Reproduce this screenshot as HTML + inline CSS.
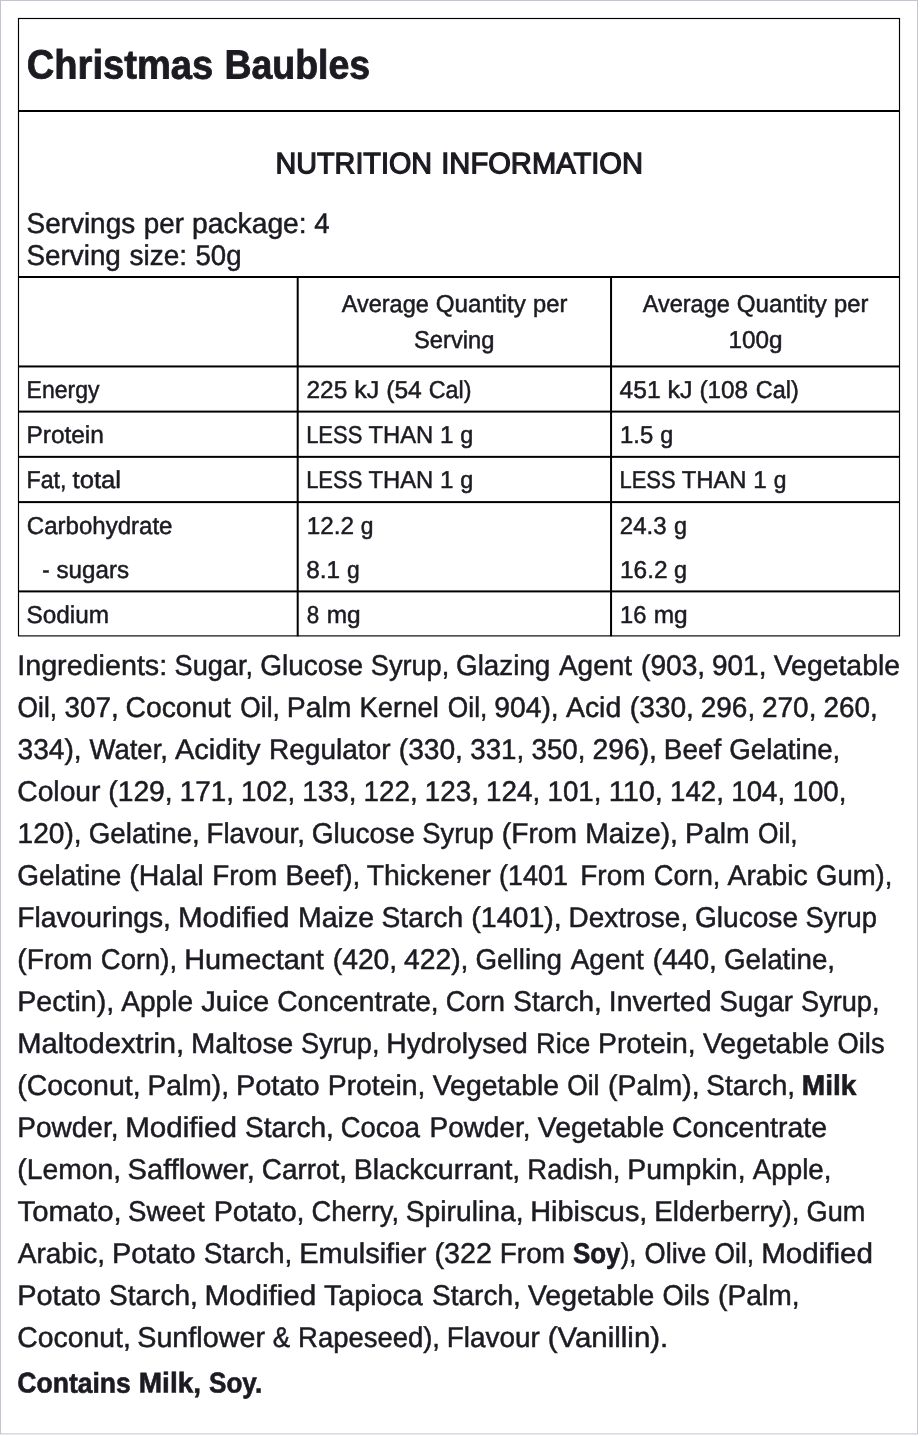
<!DOCTYPE html>
<html lang="en"><head><meta charset="utf-8"><title>Christmas Baubles</title>
<style>
html,body{margin:0;padding:0;background:#fff}
body{position:relative;width:920px;height:1436px;overflow:hidden;font-family:"Liberation Sans", Arial, Helvetica, sans-serif;color:#1c1b22}
.ln{position:absolute;left:0;margin:0;padding:0;height:0;line-height:0;white-space:pre;font-weight:400;-webkit-text-stroke:0.5px #1c1b22}
.ln span,.ln b{position:absolute;top:0;transform-origin:0 0}
.f24{font-size:24.43px}.f28{font-size:28.5px}.f30{font-size:29.5px}.f40{font-size:40.8px}
.f30.w500{font-weight:400;-webkit-text-stroke:1.25px #1c1b22}
.w700,.ln b{font-weight:700;-webkit-text-stroke:0.6px #1c1b22}
.f40.w700{font-weight:700;-webkit-text-stroke:0.85px #1c1b22}
svg.lines{position:absolute;left:0;top:0}
</style></head>
<body>
<svg class="lines" width="920" height="1436" viewBox="0 0 920 1436" style="position:absolute;left:0;top:0">
<rect x="0.5" y="0.5" width="917" height="1433.4" fill="none" stroke="#c5c2d1" stroke-width="1"/>
<rect x="18.5" y="18.5" width="881" height="617.4" fill="none" stroke="#000" stroke-width="1.15"/>
<rect x="18" y="110" width="882" height="2.00" fill="#000"/>
<rect x="18" y="276" width="882" height="2.00" fill="#000"/>
<rect x="18" y="365.45" width="882" height="2.00" fill="#000"/>
<rect x="18" y="410.6" width="882" height="2.00" fill="#000"/>
<rect x="18" y="455.85" width="882" height="2.00" fill="#000"/>
<rect x="18" y="501.1" width="882" height="2.00" fill="#000"/>
<rect x="18" y="590.4" width="882" height="2.00" fill="#000"/>
<rect x="296.7" y="277" width="2.00" height="359.30" fill="#000"/>
<rect x="610.05" y="277" width="2.00" height="359.30" fill="#000"/>
</svg>
<h1 class="ln f40 w700" style="top:64px"><span style="left:26px;transform:translate(0.83px,0.56px) scaleX(0.9340) rotate(0.03deg)">Christmas</span> <span style="left:224px;transform:translate(0.43px,0.56px) scaleX(0.9179) rotate(0.03deg)">Baubles</span></h1>
<h2 class="ln f30 w500" style="top:163px"><span style="left:275px;transform:translate(0.54px,0.22px) scaleX(0.9746) rotate(0.03deg)">NUTRITION</span> <span style="left:441px;transform:translate(0.27px,0.22px) scaleX(0.9875) rotate(0.03deg)">INFORMATION</span></h2>
<p class="ln f28" style="top:222px"><span style="left:26px;transform:translate(0.52px,1px) scaleX(0.9794) rotate(0.03deg)">Servings</span> <span style="left:143px;transform:translate(0.79px,1px) scaleX(0.9747) rotate(0.03deg)">per</span> <span style="left:192px;transform:translate(0.01px,1px) scaleX(0.9911) rotate(0.03deg)">package:</span> <span style="left:314px;transform:translate(0.26px,1px) scaleX(0.9667) rotate(0.03deg)">4</span></p>
<p class="ln f28" style="top:254px"><span style="left:26px;transform:translate(0.52px,1px) scaleX(0.9761) rotate(0.03deg)">Serving</span> <span style="left:129px;transform:translate(0.51px,1px) scaleX(0.9821) rotate(0.03deg)">size:</span> <span style="left:195px;transform:translate(0.52px,1px) scaleX(0.9669) rotate(0.03deg)">50g</span></p>
<div class="ln f24" style="top:304px"><span style="left:341px;transform:translate(0.74px,0.1px) scaleX(0.9611) rotate(0.03deg)">Average</span> <span style="left:435px;transform:translate(0.76px,0.1px) scaleX(0.9890) rotate(0.03deg)">Quantity</span> <span style="left:533px;transform:translate(0.04px,0.1px) scaleX(0.9706) rotate(0.03deg)">per</span></div>
<div class="ln f24" style="top:340px"><span style="left:414px;transform:translate(0.02px,0.1px) scaleX(0.9721) rotate(0.03deg)">Serving</span></div>
<div class="ln f24" style="top:304px"><span style="left:642px;transform:translate(0.74px,0.1px) scaleX(0.9611) rotate(0.03deg)">Average</span> <span style="left:736px;transform:translate(0.76px,0.1px) scaleX(0.9890) rotate(0.03deg)">Quantity</span> <span style="left:834px;transform:translate(0.04px,0.1px) scaleX(0.9706) rotate(0.03deg)">per</span></div>
<div class="ln f24" style="top:340px"><span style="left:728px;transform:translate(0.51px,0.1px) scaleX(0.9951) rotate(0.03deg)">100g</span></div>
<div class="ln f24" style="top:389px"><span style="left:26px;transform:translate(0.6px,0.9px) scaleX(0.9408) rotate(0.03deg)">Energy</span></div>
<div class="ln f24" style="top:389px"><span style="left:306px;transform:translate(0.5px,0.9px) scaleX(1.0000) rotate(0.03deg)">225</span> <span style="left:354px;transform:translate(0.22px,0.9px) scaleX(1.0230) rotate(0.03deg)">kJ</span> <span style="left:386px;transform:translate(0.24px,0.9px) scaleX(1.0075) rotate(0.03deg)">(54</span> <span style="left:428px;transform:translate(0.8px,0.9px) scaleX(0.9529) rotate(0.03deg)">Cal)</span></div>
<div class="ln f24" style="top:389px"><span style="left:619px;transform:translate(0.59px,0.9px) scaleX(1.0067) rotate(0.03deg)">451</span> <span style="left:667px;transform:translate(0.47px,0.9px) scaleX(1.0230) rotate(0.03deg)">kJ</span> <span style="left:699px;transform:translate(0.51px,0.9px) scaleX(0.9947) rotate(0.03deg)">(108</span> <span style="left:755px;transform:translate(0.79px,0.9px) scaleX(0.9588) rotate(0.03deg)">Cal)</span></div>
<div class="ln f24" style="top:434px"><span style="left:26px;transform:translate(0.5px,0.9px) scaleX(1.0000) rotate(0.03deg)">Protein</span></div>
<div class="ln f24" style="top:434px"><span style="left:306px;transform:translate(0.14px,0.9px) scaleX(0.9000) rotate(0.03deg)">LESS</span> <span style="left:368px;transform:translate(0.51px,0.9px) scaleX(0.9729) rotate(0.03deg)">THAN</span> <span style="left:440px;transform:translate(0px,0.9px) scaleX(0.9925) rotate(0.03deg)">1</span> <span style="left:460px;transform:translate(0.28px,0.9px) scaleX(0.9565) rotate(0.03deg)">g</span></div>
<div class="ln f24" style="top:434px"><span style="left:620px;transform:translate(0.04px,0.9px) scaleX(0.9764) rotate(0.03deg)">1.5</span> <span style="left:660px;transform:translate(0.28px,0.9px) scaleX(0.9565) rotate(0.03deg)">g</span></div>
<div class="ln f24" style="top:479px"><span style="left:26px;transform:translate(0.59px,0.9px) scaleX(0.9481) rotate(0.03deg)">Fat,</span> <span style="left:72px;transform:translate(0.55px,0.9px) scaleX(1.0500) rotate(0.03deg)">total</span></div>
<div class="ln f24" style="top:479px"><span style="left:306px;transform:translate(0.14px,0.9px) scaleX(0.9000) rotate(0.03deg)">LESS</span> <span style="left:368px;transform:translate(0.51px,0.9px) scaleX(0.9729) rotate(0.03deg)">THAN</span> <span style="left:440px;transform:translate(0px,0.9px) scaleX(0.9925) rotate(0.03deg)">1</span> <span style="left:460px;transform:translate(0.28px,0.9px) scaleX(0.9565) rotate(0.03deg)">g</span></div>
<div class="ln f24" style="top:479px"><span style="left:619px;transform:translate(0.44px,0.9px) scaleX(0.9000) rotate(0.03deg)">LESS</span> <span style="left:681px;transform:translate(0.76px,0.9px) scaleX(0.9729) rotate(0.03deg)">THAN</span> <span style="left:753px;transform:translate(0.3px,0.9px) scaleX(0.9925) rotate(0.03deg)">1</span> <span style="left:773px;transform:translate(0.8px,0.9px) scaleX(0.9348) rotate(0.03deg)">g</span></div>
<div class="ln f24" style="top:525px"><span style="left:26px;transform:translate(0.77px,1px) scaleX(0.9846) rotate(0.03deg)">Carbohydrate</span></div>
<div class="ln f24" style="top:525px"><span style="left:306px;transform:translate(0.76px,1px) scaleX(0.9944) rotate(0.03deg)">12.2</span> <span style="left:360px;transform:translate(0.8px,1px) scaleX(0.9348) rotate(0.03deg)">g</span></div>
<div class="ln f24" style="top:525px"><span style="left:619px;transform:translate(0.77px,1px) scaleX(0.9836) rotate(0.03deg)">24.3</span> <span style="left:674px;transform:translate(0.03px,1px) scaleX(0.9565) rotate(0.03deg)">g</span></div>
<div class="ln f24" style="top:569px"><span style="left:42px;transform:translate(0.16px,0.9px) scaleX(0.9000) rotate(0.03deg)">-</span> <span style="left:56px;transform:translate(0.5px,0.9px) scaleX(0.9897) rotate(0.03deg)">sugars</span></div>
<div class="ln f24" style="top:569px"><span style="left:306px;transform:translate(0.3px,0.9px) scaleX(0.9975) rotate(0.03deg)">8.1</span> <span style="left:347px;transform:translate(0.05px,0.9px) scaleX(0.9348) rotate(0.03deg)">g</span></div>
<div class="ln f24" style="top:569px"><span style="left:620px;transform:translate(0px,0.9px) scaleX(1.0000) rotate(0.03deg)">16.2</span> <span style="left:674px;transform:translate(0.03px,0.9px) scaleX(0.9565) rotate(0.03deg)">g</span></div>
<div class="ln f24" style="top:614px"><span style="left:26px;transform:translate(0.5px,0.9px) scaleX(0.9969) rotate(0.03deg)">Sodium</span></div>
<div class="ln f24" style="top:614px"><span style="left:306px;transform:translate(0.81px,0.9px) scaleX(0.9167) rotate(0.03deg)">8</span> <span style="left:326px;transform:translate(0.75px,0.9px) scaleX(1.0000) rotate(0.03deg)">mg</span></div>
<div class="ln f24" style="top:614px"><span style="left:620px;transform:translate(0.04px,0.9px) scaleX(0.9700) rotate(0.03deg)">16</span> <span style="left:653px;transform:translate(0.75px,0.9px) scaleX(1.0000) rotate(0.03deg)">mg</span></div>
<p class="ln f28" style="top:664px"><span style="left:17px;transform:translate(0.23px,1px) scaleX(1.0069) rotate(0.03deg)">Ingredients:</span> <span style="left:174px;transform:translate(0.55px,1px) scaleX(0.9527) rotate(0.03deg)">Sugar,</span> <span style="left:260px;transform:translate(0.27px,1px) scaleX(0.9829) rotate(0.03deg)">Glucose</span> <span style="left:370px;transform:translate(0.8px,1px) scaleX(0.9525) rotate(0.03deg)">Syrup,</span> <span style="left:456px;transform:translate(0.03px,1px) scaleX(0.9760) rotate(0.03deg)">Glazing</span> <span style="left:558px;transform:translate(0.99px,1px) scaleX(0.9799) rotate(0.03deg)">Agent</span> <span style="left:641px;transform:translate(0.02px,1px) scaleX(0.9878) rotate(0.03deg)">(903,</span> <span style="left:712px;transform:translate(0.02px,1px) scaleX(0.9809) rotate(0.03deg)">901,</span> <span style="left:773px;transform:translate(0.75px,1px) scaleX(0.9960) rotate(0.03deg)">Vegetable</span></p>
<p class="ln f28" style="top:706px"><span style="left:17px;transform:translate(0.58px,1px) scaleX(0.9241) rotate(0.03deg)">Oil,</span> <span style="left:64px;transform:translate(0.52px,1px) scaleX(0.9762) rotate(0.03deg)">307,</span> <span style="left:125px;transform:translate(0.51px,1px) scaleX(0.9929) rotate(0.03deg)">Coconut</span> <span style="left:240px;transform:translate(0.33px,1px) scaleX(0.9241) rotate(0.03deg)">Oil,</span> <span style="left:286px;transform:translate(0.76px,1px) scaleX(0.9959) rotate(0.03deg)">Palm</span> <span style="left:359px;transform:translate(0.58px,1px) scaleX(0.9619) rotate(0.03deg)">Kernel</span> <span style="left:447px;transform:translate(0.83px,1px) scaleX(0.9241) rotate(0.03deg)">Oil,</span> <span style="left:494px;transform:translate(0.26px,1px) scaleX(0.9919) rotate(0.03deg)">904),</span> <span style="left:565px;transform:translate(1px,1px) scaleX(0.9954) rotate(0.03deg)">Acid</span> <span style="left:629px;transform:translate(0.77px,1px) scaleX(0.9878) rotate(0.03deg)">(330,</span> <span style="left:700px;transform:translate(0.77px,1px) scaleX(0.9809) rotate(0.03deg)">296,</span> <span style="left:762px;transform:translate(0.02px,1px) scaleX(0.9809) rotate(0.03deg)">270,</span> <span style="left:823px;transform:translate(0.52px,1px) scaleX(0.9761) rotate(0.03deg)">260,</span></p>
<p class="ln f28" style="top:748px"><span style="left:17px;transform:translate(0.51px,1px) scaleX(0.9879) rotate(0.03deg)">334),</span> <span style="left:89px;transform:translate(0.49px,1px) scaleX(0.9653) rotate(0.03deg)">Water,</span> <span style="left:175px;transform:translate(0px,1px) scaleX(1.0178) rotate(0.03deg)">Acidity</span> <span style="left:269px;transform:translate(0.03px,1px) scaleX(0.9835) rotate(0.03deg)">Regulator</span> <span style="left:398px;transform:translate(0.77px,1px) scaleX(0.9878) rotate(0.03deg)">(330,</span> <span style="left:470px;transform:translate(0.27px,1px) scaleX(0.9714) rotate(0.03deg)">331,</span> <span style="left:531px;transform:translate(0.52px,1px) scaleX(0.9714) rotate(0.03deg)">350,</span> <span style="left:592px;transform:translate(0.51px,1px) scaleX(0.9919) rotate(0.03deg)">296),</span> <span style="left:663px;transform:translate(0.79px,1px) scaleX(0.9781) rotate(0.03deg)">Beef</span> <span style="left:729px;transform:translate(0.28px,1px) scaleX(0.9729) rotate(0.03deg)">Gelatine,</span></p>
<p class="ln f28" style="top:790px"><span style="left:17px;transform:translate(0.26px,1px) scaleX(0.9909) rotate(0.03deg)">Colour</span> <span style="left:108px;transform:translate(0.26px,1px) scaleX(0.9918) rotate(0.03deg)">(129,</span> <span style="left:179px;transform:translate(0.79px,1px) scaleX(0.9757) rotate(0.03deg)">171,</span> <span style="left:241px;transform:translate(0.04px,1px) scaleX(0.9757) rotate(0.03deg)">102,</span> <span style="left:302px;transform:translate(0.29px,1px) scaleX(0.9757) rotate(0.03deg)">133,</span> <span style="left:363px;transform:translate(0.54px,1px) scaleX(0.9757) rotate(0.03deg)">122,</span> <span style="left:424px;transform:translate(0.79px,1px) scaleX(0.9757) rotate(0.03deg)">123,</span> <span style="left:486px;transform:translate(0.04px,1px) scaleX(0.9757) rotate(0.03deg)">124,</span> <span style="left:547px;transform:translate(0.55px,1px) scaleX(0.9709) rotate(0.03deg)">101,</span> <span style="left:608px;transform:translate(0.72px,1px) scaleX(1.0152) rotate(0.03deg)">110,</span> <span style="left:670px;transform:translate(0.05px,1px) scaleX(0.9709) rotate(0.03deg)">142,</span> <span style="left:731px;transform:translate(0.3px,1px) scaleX(0.9709) rotate(0.03deg)">104,</span> <span style="left:792px;transform:translate(0.55px,1px) scaleX(0.9709) rotate(0.03deg)">100,</span></p>
<p class="ln f28" style="top:832px"><span style="left:17px;transform:translate(0.52px,1px) scaleX(0.9877) rotate(0.03deg)">120),</span> <span style="left:88px;transform:translate(0.78px,1px) scaleX(0.9729) rotate(0.03deg)">Gelatine,</span> <span style="left:206px;transform:translate(0.56px,1px) scaleX(0.9691) rotate(0.03deg)">Flavour,</span> <span style="left:311px;transform:translate(0.77px,1px) scaleX(0.9853) rotate(0.03deg)">Glucose</span> <span style="left:422px;transform:translate(0.29px,1px) scaleX(0.9586) rotate(0.03deg)">Syrup</span> <span style="left:501px;transform:translate(0.77px,1px) scaleX(0.9897) rotate(0.03deg)">(From</span> <span style="left:585px;transform:translate(0.27px,1px) scaleX(0.9916) rotate(0.03deg)">Maize),</span> <span style="left:685px;transform:translate(0.01px,1px) scaleX(0.9959) rotate(0.03deg)">Palm</span> <span style="left:758px;transform:translate(0.08px,1px) scaleX(0.9241) rotate(0.03deg)">Oil,</span></p>
<p class="ln f28" style="top:874px"><span style="left:17px;transform:translate(0.27px,1px) scaleX(0.9808) rotate(0.03deg)">Gelatine</span> <span style="left:129px;transform:translate(0.25px,1px) scaleX(1.0000) rotate(0.03deg)">(Halal</span> <span style="left:212px;transform:translate(0.3px,1px) scaleX(0.9762) rotate(0.03deg)">From</span> <span style="left:285px;transform:translate(0.53px,1px) scaleX(0.9826) rotate(0.03deg)">Beef),</span> <span style="left:366px;transform:translate(0.75px,1px) scaleX(0.9920) rotate(0.03deg)">Thickener</span> <span style="left:499px;transform:translate(0.09px,1px) scaleX(0.9431) rotate(0.03deg)">(1401</span> <span style="left:580px;transform:translate(0.29px,1px) scaleX(0.9802) rotate(0.03deg)">From</span> <span style="left:653px;transform:translate(0.81px,1px) scaleX(0.9547) rotate(0.03deg)">Corn,</span> <span style="left:727px;transform:translate(0.5px,1px) scaleX(0.9938) rotate(0.03deg)">Arabic</span> <span style="left:816px;transform:translate(0.05px,1px) scaleX(0.9637) rotate(0.03deg)">Gum),</span></p>
<p class="ln f28" style="top:916px"><span style="left:17px;transform:translate(0.27px,1px) scaleX(0.9901) rotate(0.03deg)">Flavourings,</span> <span style="left:177px;transform:translate(0.93px,1px) scaleX(1.0360) rotate(0.03deg)">Modified</span> <span style="left:298px;transform:translate(0px,1px) scaleX(1.0000) rotate(0.03deg)">Maize</span> <span style="left:381px;transform:translate(0.51px,1px) scaleX(0.9906) rotate(0.03deg)">Starch</span> <span style="left:471px;transform:translate(0.25px,1px) scaleX(1.0029) rotate(0.03deg)">(1401),</span> <span style="left:568px;transform:translate(0.54px,1px) scaleX(0.9809) rotate(0.03deg)">Dextrose,</span> <span style="left:695px;transform:translate(0.02px,1px) scaleX(0.9853) rotate(0.03deg)">Glucose</span> <span style="left:805px;transform:translate(0.54px,1px) scaleX(0.9586) rotate(0.03deg)">Syrup</span></p>
<p class="ln f28" style="top:958px"><span style="left:17px;transform:translate(0.27px,1px) scaleX(0.9897) rotate(0.03deg)">(From</span> <span style="left:100px;transform:translate(0.8px,1px) scaleX(0.9637) rotate(0.03deg)">Corn),</span> <span style="left:184px;transform:translate(0.22px,1px) scaleX(1.0129) rotate(0.03deg)">Humectant</span> <span style="left:332px;transform:translate(0.76px,1px) scaleX(0.9918) rotate(0.03deg)">(420,</span> <span style="left:404px;transform:translate(0px,1px) scaleX(0.9920) rotate(0.03deg)">422),</span> <span style="left:475px;transform:translate(0.53px,1px) scaleX(0.9738) rotate(0.03deg)">Gelling</span> <span style="left:570px;transform:translate(0.74px,1px) scaleX(0.9799) rotate(0.03deg)">Agent</span> <span style="left:652px;transform:translate(0.77px,1px) scaleX(0.9878) rotate(0.03deg)">(440,</span> <span style="left:724px;transform:translate(0.03px,1px) scaleX(0.9729) rotate(0.03deg)">Gelatine,</span></p>
<p class="ln f28" style="top:1000px"><span style="left:17px;transform:translate(0.24px,1px) scaleX(1.0027) rotate(0.03deg)">Pectin),</span> <span style="left:121px;transform:translate(0.25px,1px) scaleX(0.9862) rotate(0.03deg)">Apple</span> <span style="left:201px;transform:translate(0.24px,1px) scaleX(1.0230) rotate(0.03deg)">Juice</span> <span style="left:277px;transform:translate(0.26px,1px) scaleX(0.9890) rotate(0.03deg)">Concentrate,</span> <span style="left:445px;transform:translate(0.8px,1px) scaleX(0.9576) rotate(0.03deg)">Corn</span> <span style="left:513px;transform:translate(0.27px,1px) scaleX(0.9799) rotate(0.03deg)">Starch,</span> <span style="left:608px;transform:translate(0.76px,1px) scaleX(0.9975) rotate(0.03deg)">Inverted</span> <span style="left:719px;transform:translate(0.53px,1px) scaleX(0.9667) rotate(0.03deg)">Sugar</span> <span style="left:801px;transform:translate(0.05px,1px) scaleX(0.9525) rotate(0.03deg)">Syrup,</span></p>
<p class="ln f28" style="top:1042px"><span style="left:17px;transform:translate(0.2px,1px) scaleX(1.0236) rotate(0.03deg)">Maltodextrin,</span> <span style="left:190px;transform:translate(0.95px,1px) scaleX(1.0258) rotate(0.03deg)">Maltose</span> <span style="left:301px;transform:translate(0.05px,1px) scaleX(0.9525) rotate(0.03deg)">Syrup,</span> <span style="left:386px;transform:translate(0.26px,1px) scaleX(0.9928) rotate(0.03deg)">Hydrolysed</span> <span style="left:536px;transform:translate(0.1px,1px) scaleX(0.9491) rotate(0.03deg)">Rice</span> <span style="left:598px;transform:translate(0.01px,1px) scaleX(0.9947) rotate(0.03deg)">Protein,</span> <span style="left:702px;transform:translate(1px,1px) scaleX(0.9960) rotate(0.03deg)">Vegetable</span> <span style="left:837px;transform:translate(0.54px,1px) scaleX(0.9577) rotate(0.03deg)">Oils</span></p>
<p class="ln f28" style="top:1084px"><span style="left:17px;transform:translate(0.25px,1px) scaleX(0.9979) rotate(0.03deg)">(Coconut,</span> <span style="left:147px;transform:translate(0.52px,1px) scaleX(0.9904) rotate(0.03deg)">Palm),</span> <span style="left:235px;transform:translate(0.97px,1px) scaleX(1.0157) rotate(0.03deg)">Potato</span> <span style="left:327px;transform:translate(0.76px,1px) scaleX(0.9947) rotate(0.03deg)">Protein,</span> <span style="left:432px;transform:translate(0.75px,1px) scaleX(0.9960) rotate(0.03deg)">Vegetable</span> <span style="left:567px;transform:translate(0.33px,1px) scaleX(0.9225) rotate(0.03deg)">Oil</span> <span style="left:608px;transform:translate(0px,1px) scaleX(0.9972) rotate(0.03deg)">(Palm),</span> <span style="left:706px;transform:translate(0.27px,1px) scaleX(0.9828) rotate(0.03deg)">Starch,</span> <b style="left:801px;transform:translate(0.77px,1px) scaleX(0.9862) rotate(0.03deg)">Milk</b></p>
<p class="ln f28" style="top:1126px"><span style="left:17px;transform:translate(0.29px,1px) scaleX(0.9823) rotate(0.03deg)">Powder,</span> <span style="left:125px;transform:translate(0.17px,1px) scaleX(1.0384) rotate(0.03deg)">Modified</span> <span style="left:245px;transform:translate(0.02px,1px) scaleX(0.9828) rotate(0.03deg)">Starch,</span> <span style="left:340px;transform:translate(0.8px,1px) scaleX(0.9601) rotate(0.03deg)">Cocoa</span> <span style="left:429px;transform:translate(0.54px,1px) scaleX(0.9797) rotate(0.03deg)">Powder,</span> <span style="left:537px;transform:translate(0.75px,1px) scaleX(0.9980) rotate(0.03deg)">Vegetable</span> <span style="left:672px;transform:translate(0px,1px) scaleX(0.9984) rotate(0.03deg)">Concentrate</span></p>
<p class="ln f28" style="top:1168px"><span style="left:17px;transform:translate(0.26px,1px) scaleX(0.9926) rotate(0.03deg)">(Lemon,</span> <span style="left:127px;transform:translate(0.48px,1px) scaleX(1.0227) rotate(0.03deg)">Safflower,</span> <span style="left:261px;transform:translate(0.78px,1px) scaleX(0.9790) rotate(0.03deg)">Carrot,</span> <span style="left:353px;transform:translate(0.75px,1px) scaleX(1.0015) rotate(0.03deg)">Blackcurrant,</span> <span style="left:527px;transform:translate(0.33px,1px) scaleX(0.9621) rotate(0.03deg)">Radish,</span> <span style="left:627px;transform:translate(0.26px,1px) scaleX(0.9956) rotate(0.03deg)">Pumpkin,</span> <span style="left:752px;transform:translate(0.74px,1px) scaleX(0.9746) rotate(0.03deg)">Apple,</span></p>
<p class="ln f28" style="top:1210px"><span style="left:17px;transform:translate(0.49px,1px) scaleX(1.0278) rotate(0.03deg)">Tomato,</span> <span style="left:128px;transform:translate(0.03px,1px) scaleX(0.9681) rotate(0.03deg)">Sweet</span> <span style="left:213px;transform:translate(0.74px,1px) scaleX(1.0058) rotate(0.03deg)">Potato,</span> <span style="left:311px;transform:translate(0.55px,1px) scaleX(0.9573) rotate(0.03deg)">Cherry,</span> <span style="left:405px;transform:translate(0.76px,1px) scaleX(0.9913) rotate(0.03deg)">Spirulina,</span> <span style="left:530px;transform:translate(0.22px,1px) scaleX(1.0135) rotate(0.03deg)">Hibiscus,</span> <span style="left:654px;transform:translate(0.3px,1px) scaleX(0.9758) rotate(0.03deg)">Elderberry),</span> <span style="left:806px;transform:translate(0.56px,1px) scaleX(0.9534) rotate(0.03deg)">Gum</span></p>
<p class="ln f28" style="top:1252px"><span style="left:17px;transform:translate(0.75px,1px) scaleX(0.9827) rotate(0.03deg)">Arabic,</span> <span style="left:111px;transform:translate(0.97px,1px) scaleX(1.0157) rotate(0.03deg)">Potato</span> <span style="left:203px;transform:translate(0.77px,1px) scaleX(0.9799) rotate(0.03deg)">Starch,</span> <span style="left:299px;transform:translate(0.22px,1px) scaleX(1.0163) rotate(0.03deg)">Emulsifier</span> <span style="left:434px;transform:translate(0.49px,1px) scaleX(1.0092) rotate(0.03deg)">(322</span> <span style="left:499px;transform:translate(0.79px,1px) scaleX(0.9802) rotate(0.03deg)">From</span> <b style="left:572px;transform:translate(0.94px,1px) scaleX(0.9102) rotate(0.03deg)">Soy</b><span style="left:620px;transform:translate(0.8px,1px) scaleX(0.9000) rotate(0.03deg)">),</span> <span style="left:644px;transform:translate(0.55px,1px) scaleX(0.9524) rotate(0.03deg)">Olive</span> <span style="left:714px;transform:translate(0.58px,1px) scaleX(0.9241) rotate(0.03deg)">Oil,</span> <span style="left:761px;transform:translate(0.17px,1px) scaleX(1.0384) rotate(0.03deg)">Modified</span></p>
<p class="ln f28" style="top:1294px"><span style="left:17px;transform:translate(0.22px,1px) scaleX(1.0157) rotate(0.03deg)">Potato</span> <span style="left:109px;transform:translate(0.02px,1px) scaleX(0.9828) rotate(0.03deg)">Starch,</span> <span style="left:204px;transform:translate(0.42px,1px) scaleX(1.0384) rotate(0.03deg)">Modified</span> <span style="left:323px;transform:translate(1px,1px) scaleX(1.0051) rotate(0.03deg)">Tapioca</span> <span style="left:432px;transform:translate(0.02px,1px) scaleX(0.9828) rotate(0.03deg)">Starch,</span> <span style="left:527px;transform:translate(1px,1px) scaleX(0.9960) rotate(0.03deg)">Vegetable</span> <span style="left:662px;transform:translate(0.54px,1px) scaleX(0.9577) rotate(0.03deg)">Oils</span> <span style="left:718px;transform:translate(0.01px,1px) scaleX(0.9904) rotate(0.03deg)">(Palm,</span></p>
<p class="ln f28" style="top:1336px"><span style="left:17px;transform:translate(0.26px,1px) scaleX(0.9955) rotate(0.03deg)">Coconut,</span> <span style="left:137px;transform:translate(0.24px,1px) scaleX(1.0080) rotate(0.03deg)">Sunflower</span> <span style="left:272px;transform:translate(0.78px,1px) scaleX(0.9167) rotate(0.03deg)">&amp;</span> <span style="left:298px;transform:translate(0.07px,1px) scaleX(0.9633) rotate(0.03deg)">Rapeseed),</span> <span style="left:446px;transform:translate(0.79px,1px) scaleX(0.9785) rotate(0.03deg)">Flavour</span> <span style="left:547px;transform:translate(0.7px,1px) scaleX(1.0332) rotate(0.03deg)">(Vanillin).</span></p>
<p class="ln f28 w700" style="top:1382px"><span style="left:17px;transform:translate(0.3px,0.6px) scaleX(0.9314) rotate(0.03deg)">Contains</span> <span style="left:138px;transform:translate(0.77px,0.6px) scaleX(0.9834) rotate(0.03deg)">Milk,</span> <span style="left:209px;transform:translate(0.04px,0.6px) scaleX(0.9152) rotate(0.03deg)">Soy.</span></p>
</body></html>
